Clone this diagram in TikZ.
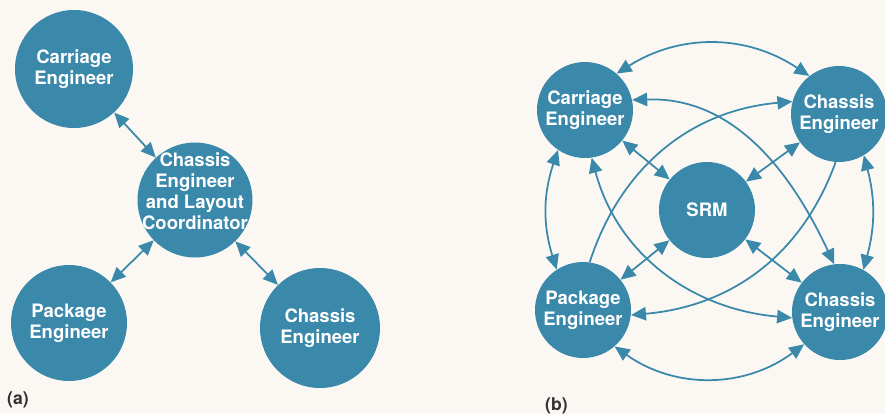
\documentclass[tikz,border=0pt]{standalone}
\usepackage{fontspec}
\setmainfont{TeX Gyre Heros}
\usetikzlibrary{arrows.meta}
\definecolor{bluefill}{RGB}{58,136,170}
\definecolor{paper}{RGB}{251,248,243}
\begin{document}
\begin{tikzpicture}[x=0.03cm,y=0.03cm,
  circ/.style={circle, fill=bluefill, inner sep=0pt, text=white, align=center,
    font=\bfseries\fontsize{15.8}{17.9}\selectfont},
  lbl/.style={inner sep=0pt, text=white, align=center,
    font=\bfseries\fontsize{15.8}{17.9}\selectfont},
  big/.style={circ, minimum size=3.48cm},
  small/.style={circ, minimum size=2.88cm},
  tip/.tip={Triangle[length=0.45cm,width=0.4cm]},
  conn/.style={draw=bluefill, line width=1.5pt, tip-tip},
  oneway/.style={draw=bluefill, line width=1.5pt, -tip},
  tag/.style={inner sep=0pt, anchor=base west, text=black!80,
    font=\bfseries\fontsize{15}{17}\selectfont}
]
\useasboundingbox (0,0) rectangle (885,-414);
\fill[paper] (0,0) rectangle (885,-414);

% ---------- panel (a)
\node[big, minimum size=3.54cm] (acar) at (74,-69) {Carriage\\Engineer};
\node[big, minimum size=3.45cm] (acoord) at (195,-200) {};
\node[lbl] (acoordtxt) at (195,-191) {Chassis\\Engineer\\and Layout\\Coordinator};
\node[big] (apkg) at (69,-323) {Package\\Engineer};
\node[big, minimum size=3.6cm] (achs) at (320,-328) {Chassis\\Engineer};

\draw[conn] (acar) -- (acoord);
\draw[conn] (apkg) -- (acoord);
\draw[conn] (acoord) -- (achs);

\node[tag] (taga) at (7,-404) {(a)};

% ---------- panel (b)
\node[small] (car) at (585,-110) {Carriage\\Engineer};
\node[small] (chtr) at (839,-114) {Chassis\\Engineer};
\node[small] (srm) at (707,-210) {SRM};
\node[small] (pkg) at (583,-310) {Package\\Engineer};
\node[small] (chbr) at (840,-312) {Chassis\\Engineer};

% straight links to SRM
\draw[conn] (car) -- (srm);
\draw[conn] (chtr) -- (srm);
\draw[conn] (pkg) -- (srm);
\draw[conn] (chbr) -- (srm);

% outer arcs
\draw[conn] (car.49) to[bend left=33] (chtr.128);
\draw[conn] (pkg.-49) to[bend right=36] (chbr.222);
\draw[conn] (car.236) to[bend right=18] (pkg.123);
\draw[conn] (chtr.-59) to[bend left=15] (chbr.61);

% crossing diagonals
\draw[conn] (car.12) to[out=2, in=115] (chbr.97);
\draw[conn] (car.-82) to[out=-75, in=175] (chbr.187);
\draw[oneway] (pkg.82) to[out=72, in=185] (chtr.165);
\draw[oneway] (chtr.-94) to[out=-110, in=5] (pkg.-6);

\node[tag] (tagb) at (545,-410) {(b)};
\end{tikzpicture}
\end{document}
